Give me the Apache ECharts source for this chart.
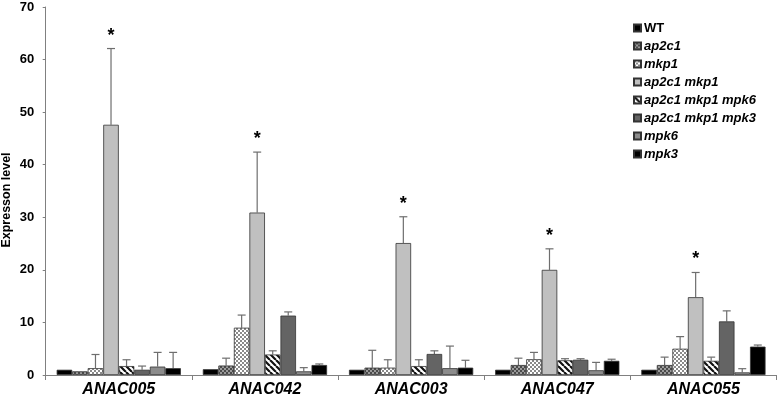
<!DOCTYPE html>
<html>
<head>
<meta charset="utf-8">
<script src="https://cdn.jsdelivr.net/npm/echarts@6/dist/echarts.min.js"></script>
<style>html,body{margin:0;padding:0;background:#fff}#c{width:779px;height:402px}</style>
</head>
<body>
<div id="c"></div>
<script>
const categories = ['ANAC005', 'ANAC042', 'ANAC003', 'ANAC047', 'ANAC055'];
const seriesNames = ['WT', 'ap2c1', 'mkp1', 'ap2c1 mkp1', 'ap2c1 mkp1 mpk6', 'ap2c1 mkp1 mpk3', 'mpk6', 'mpk3'];
const yTicks = [0, 10, 20, 30, 40, 50, 60, 70];

const wt = [1.0, 1.1, 1.0, 1.0, 1.0];
const wtUpper = [null, null, null, null, null];
const ap2c1 = [0.7, 1.8, 1.4, 1.9, 1.9];
const ap2c1Upper = [null, 3.2, 4.7, 3.2, 3.4];
const mkp1 = [1.3, 9.0, 1.4, 3.0, 5.0];
const mkp1Upper = [3.9, 11.4, 2.9, 4.3, 7.3];
const ap2c1mkp1 = [47.6, 30.9, 25.1, 20.0, 14.8];
const ap2c1mkp1Upper = [62.1, 42.4, 30.1, 24.0, 19.5];
const ap2c1mkp1mpk6 = [1.7, 3.9, 1.7, 2.8, 2.7];
const ap2c1mkp1mpk6Upper = [2.9, 4.6, 2.9, 3.1, 3.4];
const ap2c1mkp1mpk3 = [1.0, 11.3, 4.0, 2.9, 10.2];
const ap2c1mkp1mpk3Upper = [1.7, 12.0, 4.6, 3.1, 12.2];
const mpk6 = [1.6, 0.7, 1.3, 0.9, 0.5];
const mpk6Upper = [4.3, 1.4, 5.5, 2.4, 1.2];
const mpk3 = [1.3, 1.9, 1.4, 2.7, 5.4];
const mpk3Upper = [4.3, 2.1, 2.8, 3.0, 5.7];
const significant = [true, true, true, true, true]; // star over ap2c1 mkp1

const values = [wt, ap2c1, mkp1, ap2c1mkp1, ap2c1mkp1mpk6, ap2c1mkp1mpk3, mpk6, mpk3];
const uppers = [wtUpper, ap2c1Upper, mkp1Upper, ap2c1mkp1Upper, ap2c1mkp1mpk6Upper, ap2c1mkp1mpk3Upper, mpk6Upper, mpk3Upper];

function tile(size, draw) {
  const c = document.createElement('canvas');
  c.width = size; c.height = size;
  const g = c.getContext('2d');
  draw(g, size);
  return c;
}
const darkChecker = tile(4, (g) => {
  g.fillStyle = '#4a4a4a'; g.fillRect(0, 0, 4, 4);
  g.fillStyle = '#9a9a9a'; g.fillRect(0, 0, 2, 2); g.fillRect(2, 2, 2, 2);
});
const lightChecker = tile(4, (g) => {
  g.fillStyle = '#ffffff'; g.fillRect(0, 0, 4, 4);
  g.fillStyle = '#8a8a8a'; g.fillRect(0, 0, 2, 2); g.fillRect(2, 2, 2, 2);
});
const stripes = tile(6, (g, s) => {
  g.fillStyle = '#ffffff'; g.fillRect(0, 0, s, s);
  g.strokeStyle = '#111'; g.lineWidth = 2.2;
  g.beginPath();
  for (let k = -1; k <= 1; k++) { g.moveTo(k * s, 0); g.lineTo(k * s + s, s); }
  g.stroke();
});

const fills = [
  '#000000',
  { image: darkChecker, repeat: 'repeat' },
  { image: lightChecker, repeat: 'repeat' },
  '#c0c0c0',
  { image: stripes, repeat: 'repeat' },
  '#646464',
  '#8c8c8c',
  '#000000'
];

const barSeries = seriesNames.map((name, i) => ({
  name: name,
  type: 'bar',
  data: values[i],
  barGap: '0%',
  barCategoryGap: '15%',
  itemStyle: { color: fills[i], borderColor: '#333', borderWidth: 0.8 },
  emphasis: { disabled: true },
  animation: false
}));

const errData = [];
for (let s = 0; s < seriesNames.length; s++) {
  for (let c = 0; c < categories.length; c++) {
    if (uppers[s][c] != null) errData.push([c, s, values[s][c], uppers[s][c]]);
  }
}
const starData = [];
for (let c = 0; c < categories.length; c++) {
  if (significant[c]) starData.push([c, 3, ap2c1mkp1Upper[c]]);
}
const nSeries = seriesNames.length;

function barCenter(api, c, s) {
  const cx = api.coord([c, 0])[0];
  const catW = api.size([1, 0])[0];
  const bw = catW * 0.85 / nSeries;
  return cx - catW * 0.85 / 2 + (s + 0.5) * bw;
}

const option = {
  backgroundColor: '#fff',
  animation: false,
  grid: { left: 45.7, right: 2.5, top: 7, bottom: 27, containLabel: false, outerBoundsMode: 'none' },
  legend: {
    data: seriesNames,
    orient: 'vertical',
    left: 633,
    top: 21,
    padding: 0,
    itemWidth: 7,
    itemHeight: 7,
    itemGap: 4,
    icon: 'rect',
    textStyle: {
      fontFamily: 'Liberation Sans, Arial, sans-serif',
      fontSize: 13,
      fontWeight: 'bold',
      color: '#000',
      lineHeight: 14,
      padding: [0, 0, 0, -2],
      rich: {
        n: { fontSize: 13, fontWeight: 'bold', fontStyle: 'normal', fontFamily: 'Liberation Sans, Arial, sans-serif', color: '#000' },
        i: { fontSize: 13, fontWeight: 'bold', fontStyle: 'italic', fontFamily: 'Liberation Sans, Arial, sans-serif', color: '#000' }
      }
    },
    formatter: (name) => name === 'WT' ? '{n|' + name + '}' : '{i|' + name + '}',
    selectedMode: false
  },
  xAxis: {
    type: 'category',
    data: categories,
    axisLine: { lineStyle: { color: '#808080', width: 1 } },
    axisTick: { show: true, length: 5, inside: false, lineStyle: { color: '#808080' } },
    axisLabel: {
      margin: 7,
      fontFamily: 'Liberation Sans, Arial, sans-serif',
      fontSize: 16,
      fontWeight: 'bold',
      fontStyle: 'italic',
      color: '#000'
    },
    splitLine: { show: false }
  },
  yAxis: {
    type: 'value',
    min: yTicks[0],
    max: yTicks[yTicks.length - 1],
    interval: 10,
    name: 'Expresson level',
    nameLocation: 'middle',
    nameGap: 33,
    nameMoveOverlap: false,
    nameTextStyle: { fontFamily: 'Liberation Sans, Arial, sans-serif', fontSize: 12.5, fontWeight: 'bold', color: '#000', padding: [0, 18, 0, 0] },
    axisLine: { show: true, lineStyle: { color: '#808080', width: 1 } },
    axisTick: { show: true, length: 3, lineStyle: { color: '#808080' } },
    axisLabel: {
      margin: 11.5,
      fontFamily: 'Liberation Sans, Arial, sans-serif',
      fontSize: 13,
      fontWeight: 'bold',
      color: '#000'
    },
    splitLine: { show: false }
  },
  series: barSeries.concat([
    {
      type: 'custom',
      name: 'errors',
      data: errData,
      z: 1,
      silent: true,
      renderItem: function (params, api) {
        const c = api.value(0), s = api.value(1);
        const x = barCenter(api, c, s);
        const y0 = api.coord([c, api.value(2)])[1];
        const y1 = api.coord([c, api.value(3)])[1];
        const half = 4;
        return {
          type: 'group',
          children: [
            { type: 'line', shape: { x1: x, y1: y0, x2: x, y2: y1 }, style: { stroke: '#6e6e6e', lineWidth: 1.2 } },
            { type: 'line', shape: { x1: x - half, y1: y1, x2: x + half, y2: y1 }, style: { stroke: '#6e6e6e', lineWidth: 1.2 } }
          ]
        };
      },
      animation: false
    },
    {
      type: 'custom',
      name: 'stars',
      data: starData,
      silent: true,
      renderItem: function (params, api) {
        const c = api.value(0), s = api.value(1);
        const x = barCenter(api, c, s);
        const y1 = api.coord([c, api.value(2)])[1];
        return {
          type: 'text',
          style: {
            x: x, y: y1 - 4, text: '*',
            fill: '#000', fontSize: 18, fontWeight: 'bold',
            fontFamily: 'Liberation Sans, Arial, sans-serif',
            align: 'center', verticalAlign: 'bottom'
          }
        };
      },
      animation: false
    }
  ])
};

const chart = echarts.init(document.getElementById('c'));
chart.setOption(option);
</script>
</body>
</html>
